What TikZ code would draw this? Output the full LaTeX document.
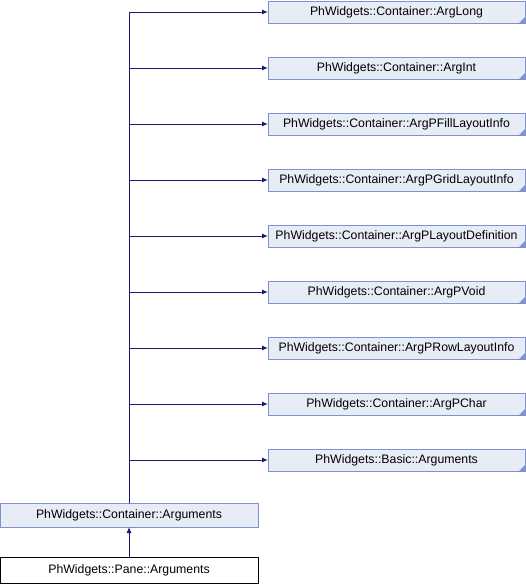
\documentclass[tikz,border=0pt]{standalone}
\usepackage{fontspec}
\setmainfont{Liberation Sans}
\usetikzlibrary{positioning,arrows.meta}

\definecolor{kantblaa}{HTML}{7D93CB}
\definecolor{fyllblaa}{HTML}{E8ECF7}
\definecolor{pilblaa}{HTML}{191970}

\begin{document}
\begin{tikzpicture}[x=1pt, y=1pt, node distance=34pt, font=\fontsize{12.3}{14}\selectfont]

\tikzstyle{klasse}=[rectangle, draw=kantblaa, fill=fyllblaa, line width=1pt, minimum width=257pt, minimum height=22pt, inner sep=0pt, outer sep=0pt]
\tikzstyle{hovedklasse}=[klasse, draw=black, fill=white, minimum width=258pt, minimum height=26pt]
\tikzstyle{pil}=[draw=pilblaa, line width=1pt, -{Latex[length=6pt, width=5pt]}]

\useasboundingbox (0,0) rectangle (526,-584);

\node[klasse] (arglong) at (396.5,-12) {PhWidgets::Container::ArgLong};
\node[klasse, below=of arglong] (argint) {PhWidgets::Container::ArgInt};
\node[klasse, below=of argint] (argfill) {PhWidgets::Container::ArgPFillLayoutInfo};
\node[klasse, below=of argfill] (arggrid) {PhWidgets::Container::ArgPGridLayoutInfo};
\node[klasse, below=of arggrid] (argdef) {PhWidgets::Container::ArgPLayoutDefinition};
\node[klasse, below=of argdef] (argvoid) {PhWidgets::Container::ArgPVoid};
\node[klasse, below=of argvoid] (argrow) {PhWidgets::Container::ArgPRowLayoutInfo};
\node[klasse, below=of argrow] (argchar) {PhWidgets::Container::ArgPChar};
\node[klasse, below=of argchar] (basic) {PhWidgets::Basic::Arguments};

\node[klasse, minimum width=258pt, minimum height=24pt] (arguments) at (129,-515) {PhWidgets::Container::Arguments};
\node[hovedklasse, below=30pt of arguments] (pane) {PhWidgets::Pane::Arguments};

\foreach \n in {arglong,argint,argfill,arggrid,argdef,argvoid,argrow,argchar,basic} {
  \fill[kantblaa] (\n.south east) -- ++(-6,0) -- ++(6,6) -- cycle;
  \draw[pil] (arguments.north) |- (\n.west);
}

\draw[pil] (pane) -- (arguments);

\end{tikzpicture}
\end{document}
